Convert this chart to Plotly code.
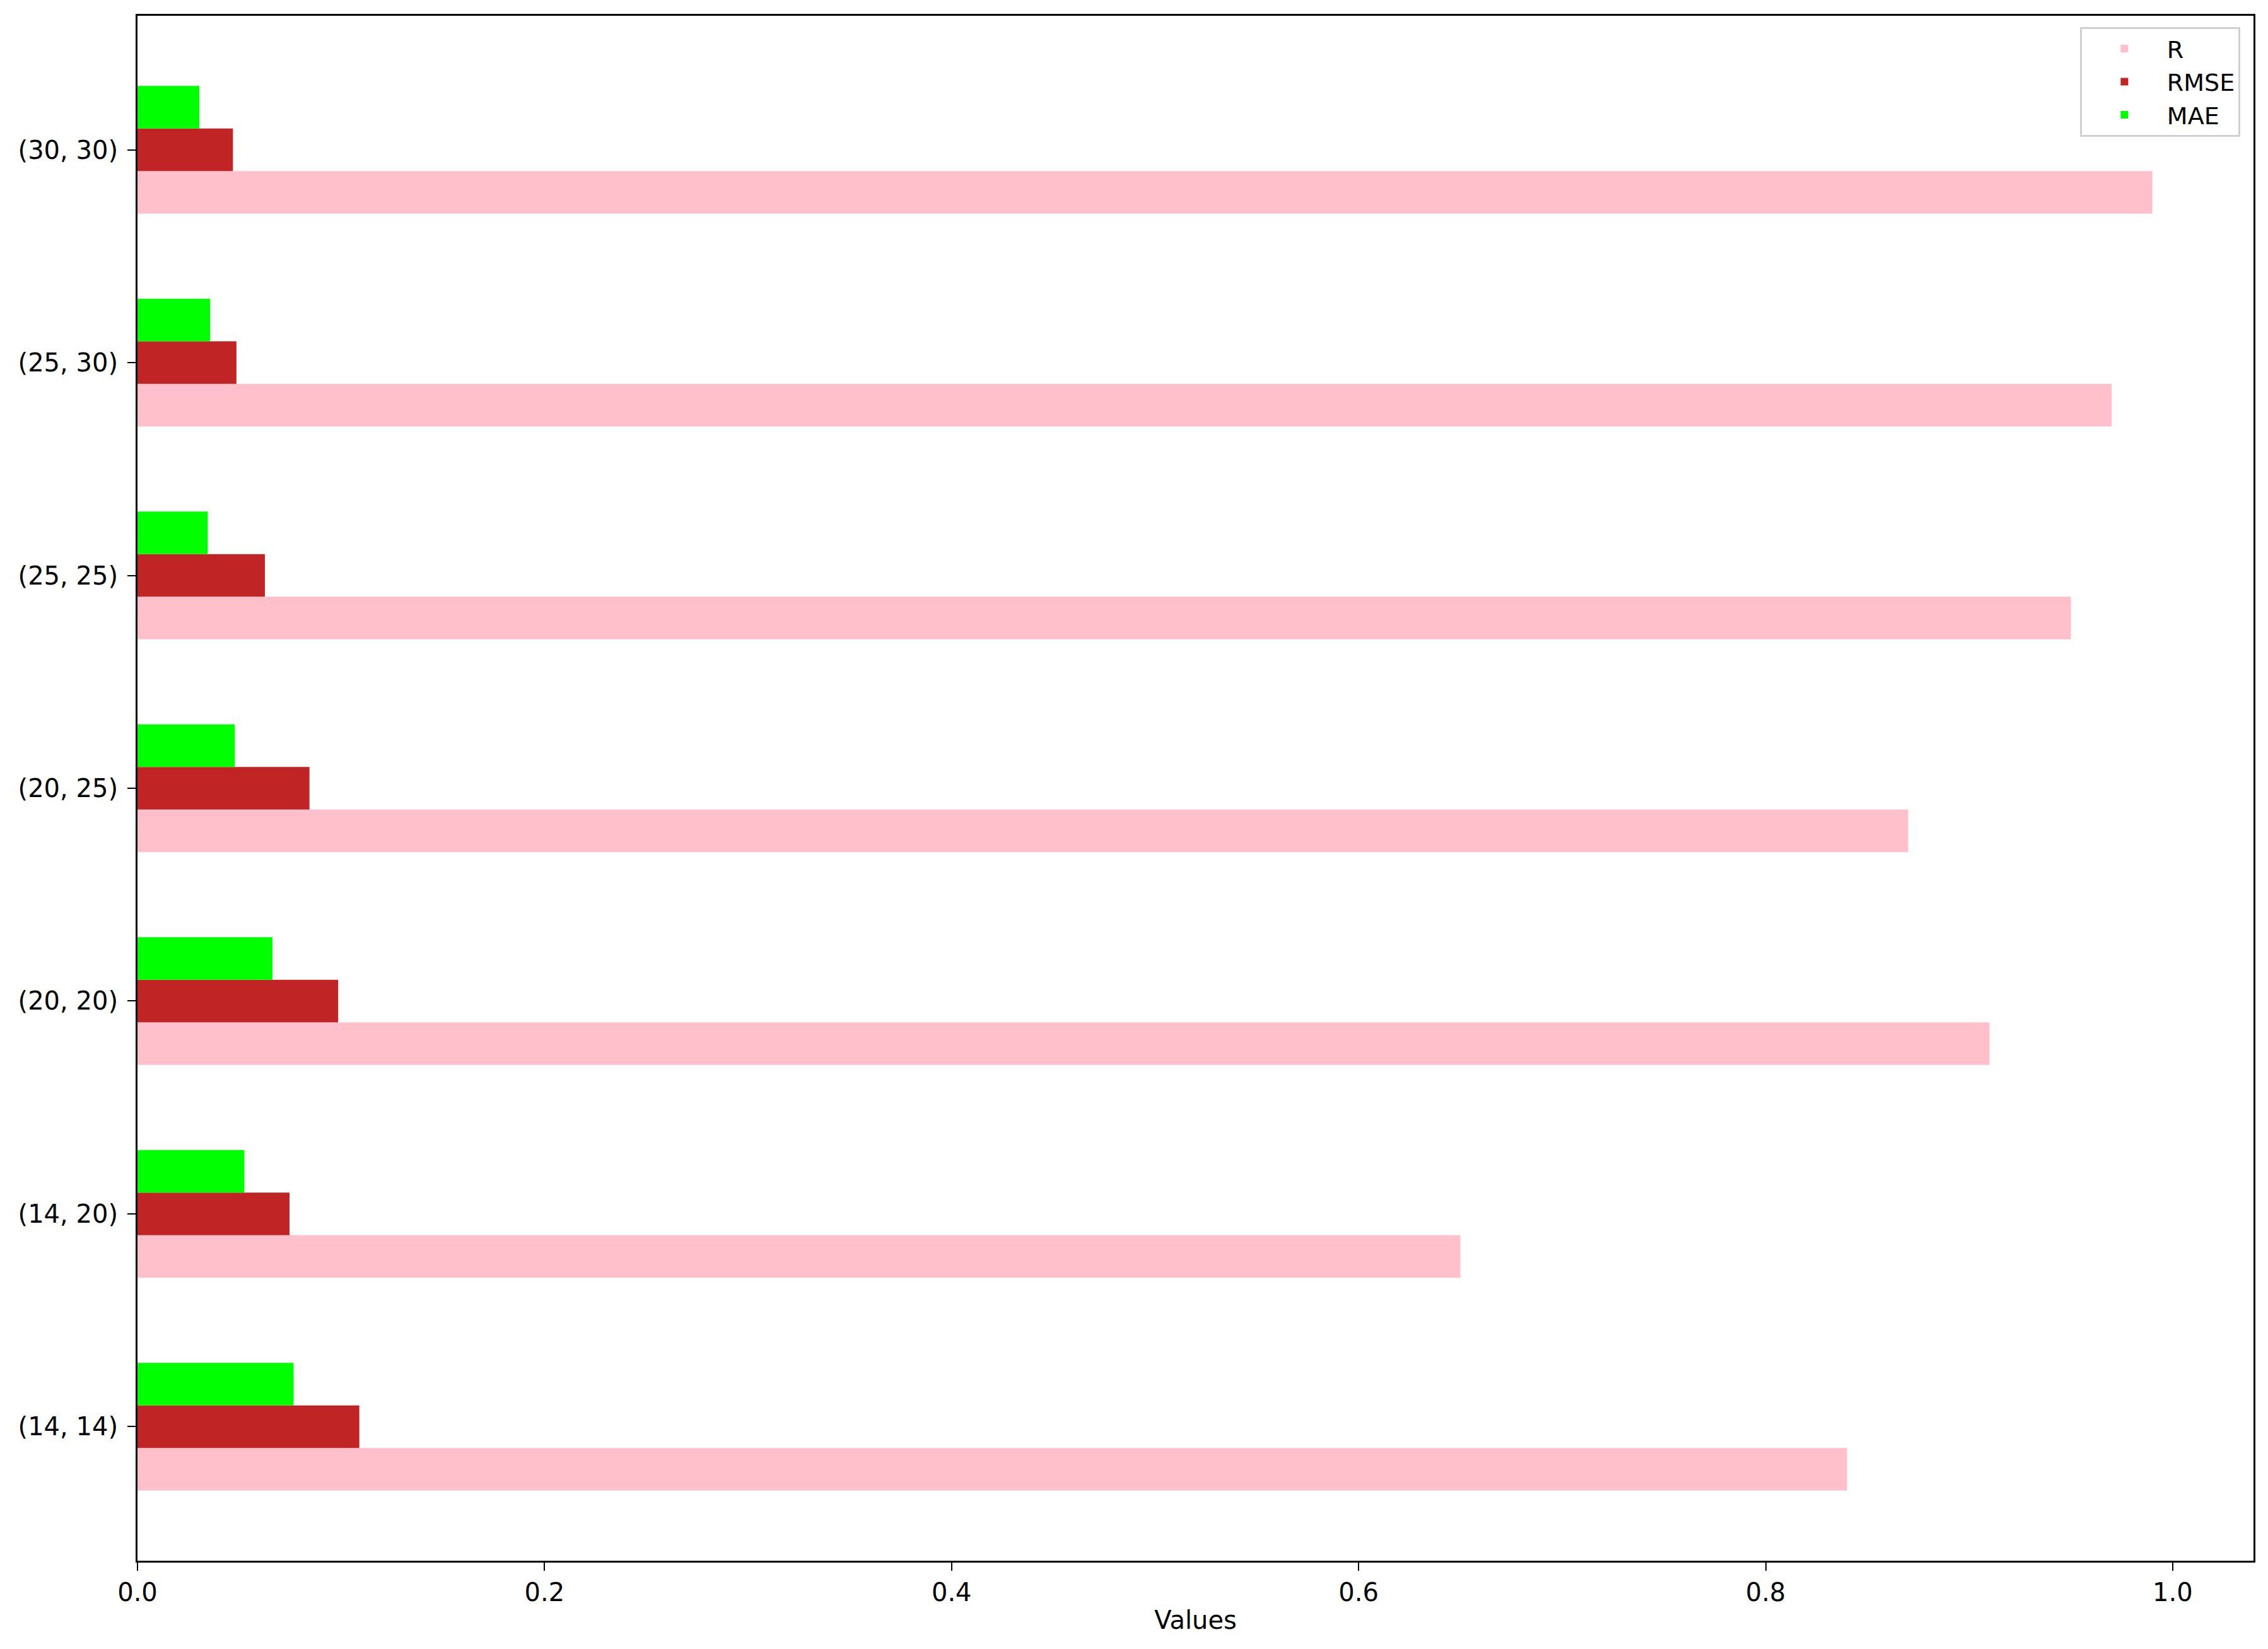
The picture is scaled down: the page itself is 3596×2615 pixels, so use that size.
import plotly.graph_objects as go

# categories bottom -> top
windows = ["(14, 14)", "(14, 20)", "(20, 20)", "(20, 25)", "(25, 25)", "(25, 30)", "(30, 30)"]
r_vals = [0.84, 0.65, 0.91, 0.87, 0.95, 0.97, 0.99]
rmse_vals = [0.109, 0.0747, 0.0986, 0.0845, 0.0626, 0.0486, 0.0469]
mae_vals = [0.0767, 0.0525, 0.0663, 0.0478, 0.0345, 0.0357, 0.0304]

x_ticks = [0.0, 0.2, 0.4, 0.6, 0.8, 1.0]

font = dict(family="DejaVu Sans", size=40, color="black")

fig = go.Figure()
fig.add_trace(go.Bar(y=windows, x=r_vals, orientation="h", name="R",
                     marker=dict(color="#FFC0CB", line_width=0)))
fig.add_trace(go.Bar(y=windows, x=rmse_vals, orientation="h", name="RMSE",
                     marker=dict(color="#C02424", line_width=0)))
fig.add_trace(go.Bar(y=windows, x=mae_vals, orientation="h", name="MAE",
                     marker=dict(color="#00FF00", line_width=0)))

# the html body adds an 8px margin, so the figure is 8px smaller
fig.update_layout(
    width=3588, height=2607,
    margin=dict(l=210, r=23, t=17, b=140),
    paper_bgcolor="white", plot_bgcolor="white",
    barmode="group", bargap=0.4, bargroupgap=0,
    font=font,
    showlegend=True,
    legend=dict(x=0.9937, y=0.9927, xanchor="right", yanchor="top",
                traceorder="normal", bgcolor="white",
                bordercolor="#d0d0d0", borderwidth=3,
                font=dict(family="DejaVu Sans", size=38),
                itemwidth=125, tracegroupgap=0),
)
fig.update_xaxes(
    range=[0, 1.0397], tickvals=x_ticks, tickformat=".1f",
    showline=True, mirror=True, linecolor="black", linewidth=3,
    ticks="outside", ticklen=13, tickwidth=2, tickcolor="black",
    showgrid=False, zeroline=False, automargin=False,
    title=dict(text="Values", font=font, standoff=8),
)
fig.update_yaxes(
    type="category", categoryorder="array", categoryarray=windows,
    range=[-0.63, 6.63],
    showline=True, mirror=True, linecolor="black", linewidth=3,
    ticks="outside", ticklen=13, tickwidth=2, tickcolor="black",
    ticklabelstandoff=7,
    showgrid=False, zeroline=False, automargin=False,
)

fig.write_html("out.html")
